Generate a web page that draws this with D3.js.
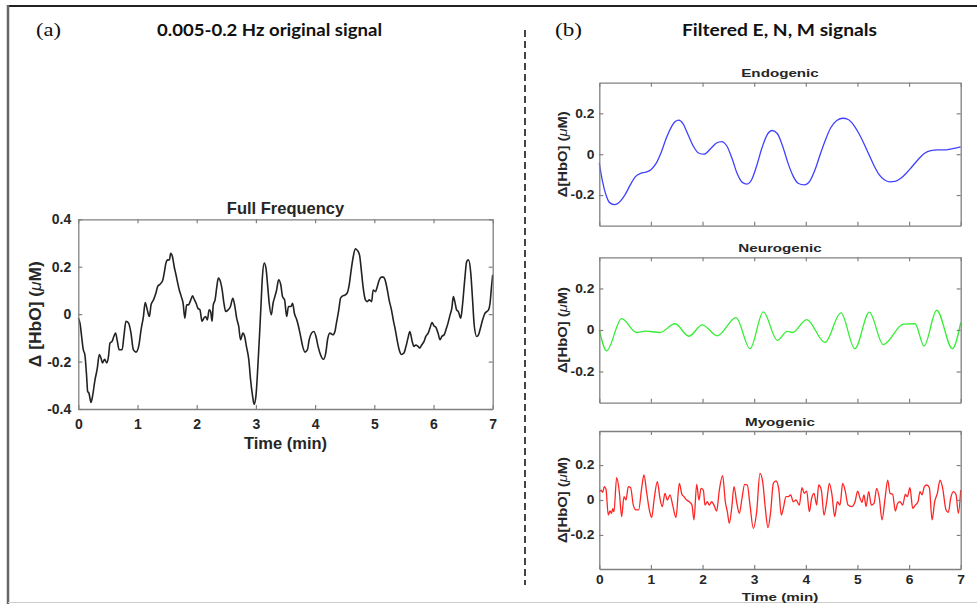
<!DOCTYPE html>
<html><head><meta charset="utf-8">
<script src="https://cdn.jsdelivr.net/npm/d3@7"></script>
<style>html,body{margin:0;padding:0;background:#fff;} svg{display:block;}</style>
</head><body>
<svg id="c" width="977" height="604"></svg>
<script>
// ---------- DATA (time in min, ΔHbO in µM) ----------
const xTicks = [0,1,2,3,4,5,6,7];
const leftYTicks = [-0.4,-0.2,0,0.2,0.4];
const rightYTicks = [-0.2,0,0.2];

const fullFreq = [[0,-0.017],[0.03,-0.04],[0.056,-0.094],[0.084,-0.15],[0.11,-0.17],[0.14,-0.26],[0.158,-0.326],[0.18,-0.333],[0.214,-0.372],[0.24,-0.347],[0.28,-0.28],[0.32,-0.23],[0.355,-0.17],[0.383,-0.185],[0.41,-0.206],[0.445,-0.19],[0.48,-0.206],[0.51,-0.178],[0.535,-0.122],[0.57,-0.115],[0.6,-0.094],[0.63,-0.08],[0.66,-0.115],[0.69,-0.15],[0.74,-0.15],[0.77,-0.094],[0.805,-0.03],[0.85,-0.038],[0.89,-0.08],[0.93,-0.15],[0.974,-0.16],[1.02,-0.136],[1.06,-0.066],[1.1,-0.01],[1.13,0.049],[1.165,0.018],[1.2,-0.01],[1.23,0.04],[1.27,0.06],[1.31,0.088],[1.34,0.116],[1.38,0.126],[1.425,0.142],[1.45,0.172],[1.48,0.215],[1.51,0.229],[1.54,0.229],[1.56,0.257],[1.59,0.243],[1.62,0.2],[1.65,0.166],[1.68,0.13],[1.706,0.102],[1.74,0.074],[1.77,0.046],[1.8,-0.017],[1.83,0.039],[1.86,0.039],[1.9,0.06],[1.93,0.077],[1.95,0.067],[1.99,0.046],[2.02,0.025],[2.055,0.018],[2.09,-0.03],[2.12,-0.017],[2.15,-0.01],[2.18,-0.024],[2.21,0.018],[2.235,0.011],[2.26,-0.03],[2.28,0.039],[2.31,0.06],[2.34,0.116],[2.365,0.152],[2.39,0.145],[2.43,0.102],[2.46,0.046],[2.49,0.011],[2.53,0.018],[2.57,0.032],[2.61,0.067],[2.64,0.039],[2.675,-0.017],[2.71,-0.052],[2.74,-0.108],[2.78,-0.08],[2.81,-0.094],[2.84,-0.136],[2.88,-0.192],[2.91,-0.276],[2.945,-0.347],[2.97,-0.38],[3.0,-0.347],[3.03,-0.234],[3.06,-0.094],[3.085,0.032],[3.11,0.158],[3.14,0.215],[3.17,0.194],[3.2,0.116],[3.225,0.046],[3.26,-0.003],[3.29,0.046],[3.32,0.074],[3.35,0.102],[3.384,0.145],[3.42,0.124],[3.45,0.074],[3.485,0.06],[3.52,-0.01],[3.55,0.032],[3.59,0.032],[3.62,0.046],[3.65,0.004],[3.69,-0.024],[3.72,-0.052],[3.756,-0.094],[3.79,-0.136],[3.83,-0.16],[3.87,-0.15],[3.9,-0.108],[3.94,-0.08],[3.98,-0.073],[4.015,-0.094],[4.05,-0.136],[4.09,-0.17],[4.14,-0.19],[4.18,-0.164],[4.21,-0.108],[4.25,-0.08],[4.3,-0.087],[4.335,-0.073],[4.36,-0.038],[4.4,0.018],[4.43,0.067],[4.465,0.077],[4.5,0.08],[4.54,0.088],[4.58,0.13],[4.61,0.187],[4.645,0.243],[4.68,0.276],[4.71,0.27],[4.75,0.25],[4.78,0.187],[4.81,0.116],[4.85,0.06],[4.88,0.053],[4.915,0.06],[4.955,0.053],[4.98,0.102],[5.02,0.095],[5.05,0.116],[5.085,0.145],[5.12,0.156],[5.15,0.156],[5.19,0.138],[5.22,0.102],[5.25,0.06],[5.29,0.018],[5.32,-0.024],[5.355,-0.066],[5.39,-0.115],[5.42,-0.15],[5.46,-0.17],[5.5,-0.164],[5.535,-0.136],[5.57,-0.1],[5.6,-0.073],[5.64,-0.115],[5.67,-0.136],[5.7,-0.13],[5.74,-0.136],[5.77,-0.143],[5.8,-0.13],[5.84,-0.115],[5.87,-0.094],[5.91,-0.08],[5.94,-0.059],[5.975,-0.035],[6.01,-0.05],[6.04,-0.055],[6.08,-0.083],[6.11,-0.108],[6.14,-0.094],[6.18,-0.087],[6.21,-0.066],[6.245,-0.038],[6.28,-0.003],[6.31,0.025],[6.335,0.074],[6.36,0.053],[6.39,0.018],[6.42,0.011],[6.46,-0.017],[6.49,0.039],[6.53,0.152],[6.56,0.222],[6.59,0.229],[6.63,0.172],[6.66,0.06],[6.69,-0.052],[6.73,-0.094],[6.76,-0.087],[6.8,-0.052],[6.83,-0.024],[6.87,0.004],[6.9,0.011],[6.93,0.018],[6.955,0.046],[6.98,0.116],[7.0,0.166]];

const endogenic = [[0,-0.044],[0.06,-0.13],[0.13,-0.2],[0.2,-0.237],[0.3,-0.247],[0.4,-0.232],[0.5,-0.198],[0.6,-0.15],[0.7,-0.11],[0.8,-0.094],[0.9,-0.088],[1.0,-0.076],[1.1,-0.045],[1.2,0.01],[1.3,0.08],[1.4,0.135],[1.47,0.16],[1.54,0.167],[1.62,0.15],[1.72,0.095],[1.82,0.04],[1.92,0.006],[2.03,0],[2.15,0.025],[2.27,0.055],[2.37,0.062],[2.47,0.04],[2.57,-0.02],[2.67,-0.095],[2.77,-0.138],[2.86,-0.146],[2.95,-0.125],[3.05,-0.055],[3.15,0.03],[3.25,0.095],[3.35,0.116],[3.45,0.1],[3.55,0.04],[3.65,-0.04],[3.75,-0.105],[3.85,-0.142],[3.97,-0.15],[4.08,-0.13],[4.18,-0.075],[4.28,0.0],[4.38,0.07],[4.48,0.128],[4.6,0.165],[4.72,0.176],[4.82,0.17],[4.92,0.145],[5.02,0.105],[5.12,0.055],[5.22,0.0],[5.32,-0.055],[5.42,-0.1],[5.52,-0.125],[5.62,-0.135],[5.73,-0.133],[5.84,-0.118],[5.95,-0.092],[6.06,-0.06],[6.18,-0.025],[6.3,0.005],[6.42,0.018],[6.55,0.021],[6.68,0.021],[6.8,0.025],[6.9,0.03],[7.0,0.036]];

const neurogenic = [[0,0],[0.142,-0.1],[0.433,0.055],[0.723,-0.012],[0.885,-0.005],[1.175,-0.012],[1.466,0.03],[1.737,-0.03],[1.995,0.025],[2.286,-0.028],[2.648,0.06],[2.919,-0.09],[3.177,0.087],[3.448,-0.05],[3.64,-0.007],[3.74,-0.012],[4.017,0.05],[4.37,-0.06],[4.68,0.082],[4.95,-0.09],[5.23,0.086],[5.5,-0.07],[5.89,0.028],[6.115,0.03],[6.29,-0.077],[6.535,0.095],[6.84,-0.09],[7.0,0.035]];

const myogenic = [[0,0.044],[0.032,0.057],[0.065,0.044],[0.097,0.076],[0.129,0.063],[0.174,-0.086],[0.207,-0.063],[0.239,-0.076],[0.258,-0.05],[0.284,-0.067],[0.336,0.128],[0.387,0.048],[0.433,-0.095],[0.478,0.019],[0.517,0],[0.562,0.076],[0.607,0.07],[0.659,-0.029],[0.71,-0.057],[0.762,-0.057],[0.82,0.067],[0.865,0.143],[0.917,0.044],[0.969,-0.057],[1.014,-0.1],[1.065,0.01],[1.124,0.105],[1.175,0.01],[1.22,-0.038],[1.272,0.038],[1.317,0],[1.369,0.029],[1.421,-0.029],[1.485,-0.1],[1.55,0.095],[1.601,0.032],[1.64,0.019],[1.692,0],[1.743,-0.01],[1.795,-0.029],[1.834,-0.114],[1.886,0.09],[1.931,0],[1.97,0.067],[2.015,0.057],[2.047,-0.029],[2.092,-0.01],[2.131,-0.029],[2.176,-0.01],[2.221,-0.029],[2.273,-0.063],[2.325,0.057],[2.389,0.139],[2.441,-0.01],[2.48,-0.067],[2.518,-0.133],[2.564,-0.048],[2.609,0.076],[2.661,-0.013],[2.712,-0.076],[2.764,0.01],[2.815,0.09],[2.867,0.086],[2.919,-0.029],[2.983,-0.162],[3.048,-0.067],[3.112,0.152],[3.164,0.105],[3.216,-0.048],[3.267,-0.158],[3.319,-0.067],[3.371,0.095],[3.422,0.109],[3.474,0.067],[3.526,-0.086],[3.564,-0.048],[3.616,0.019],[3.661,0.019],[3.707,0.029],[3.758,-0.01],[3.81,0],[3.874,-0.029],[3.926,0.07],[3.971,0.038],[4.017,0.051],[4.068,-0.067],[4.113,0.01],[4.159,0.038],[4.21,-0.029],[4.249,0.086],[4.301,0.057],[4.352,-0.086],[4.404,-0.01],[4.456,0.095],[4.507,0.029],[4.559,-0.095],[4.611,-0.01],[4.662,-0.029],[4.714,0.095],[4.766,0.048],[4.817,-0.029],[4.888,-0.038],[4.953,-0.01],[5.004,0.051],[5.05,0.01],[5.088,-0.013],[5.127,0.029],[5.166,-0.038],[5.218,0.048],[5.269,-0.029],[5.321,-0.019],[5.373,0.067],[5.424,0.01],[5.476,-0.114],[5.534,0.006],[5.586,0.114],[5.631,0.038],[5.683,0.032],[5.734,-0.063],[5.779,-0.019],[5.825,-0.01],[5.876,-0.029],[5.928,0.032],[5.967,0.019],[6.018,0.07],[6.07,-0.048],[6.122,-0.029],[6.173,-0.01],[6.212,0.048],[6.251,0.029],[6.296,0.076],[6.341,0.086],[6.393,0.07],[6.445,-0.114],[6.496,-0.01],[6.548,0.038],[6.6,0.114],[6.651,0.067],[6.716,-0.057],[6.761,-0.07],[6.806,0.01],[6.858,0.048],[6.909,0.032],[6.955,-0.076],[7.0,0.057]];

// ---------- DRAWING ----------
const SANS = "'Liberation Sans', Arial, Helvetica, sans-serif";
const SERIF = "'Liberation Serif','Times New Roman',serif";
const TXT = "#262626", AX = "#808080";
const svg = d3.select('#c');

// frame
svg.append('line').attr('x1',8).attr('x2',977).attr('y1',6).attr('y2',6).attr('stroke','#222').attr('stroke-width',2);
svg.append('line').attr('x1',8).attr('x2',8).attr('y1',5).attr('y2',604).attr('stroke','#666').attr('stroke-width',2.5);
svg.append('line').attr('x1',8).attr('x2',977).attr('y1',602.5).attr('y2',602.5).attr('stroke','#ccc').attr('stroke-width',1);
// divider
svg.append('line').attr('x1',525).attr('x2',525).attr('y1',30).attr('y2',585)
  .attr('stroke','#444').attr('stroke-width',2).attr('stroke-dasharray','7,4');

// headers
svg.append('text').attr('x',36).attr('y',36).attr('textLength',25).attr('lengthAdjust','spacingAndGlyphs')
  .attr('font-family',SERIF).attr('font-size',18).attr('fill','#111').text('(a)');
svg.append('text').attr('x',555).attr('y',36).attr('textLength',27).attr('lengthAdjust','spacingAndGlyphs')
  .attr('font-family',SERIF).attr('font-size',18).attr('fill','#111').text('(b)');
svg.append('text').attr('x',157).attr('y',36).attr('textLength',225).attr('lengthAdjust','spacingAndGlyphs')
  .attr('font-family',"Lato, 'Open Sans', sans-serif").attr('font-weight','bold').attr('font-size',17).attr('fill','#111')
  .text('0.005-0.2 Hz original signal');
svg.append('text').attr('x',682).attr('y',36).attr('textLength',195).attr('lengthAdjust','spacingAndGlyphs')
  .attr('font-family',"Lato, 'Open Sans', sans-serif").attr('font-weight','bold').attr('font-size',17).attr('fill','#111')
  .text('Filtered E, N, M signals');

const fmtY = d => d === 0 ? '0' : String(d);

function panel(c) {
  const x = d3.scaleLinear().domain([0,7]).range([c.x0, c.x1]);
  const y = d3.scaleLinear().domain(c.yDomain).range([c.y1, c.y0]);
  const g = svg.append('g');
  const sx = c.sx, tsx = c.tsx;

  function styleAxis(a) {
    a.select('.domain').attr('stroke', AX).attr('stroke-width', 1.3);
    a.selectAll('.tick line').attr('stroke', AX).attr('stroke-width', 1.2);
    a.selectAll('.tick text').attr('fill', TXT).attr('font-family', SANS)
      .attr('font-weight','bold').attr('font-size', c.fs);
  }
  // data line
  g.append('path').datum(c.data)
    .attr('d', d3.line().x(d => x(d[0])).y(d => y(d[1])).curve(d3.curveMonotoneX))
    .attr('fill','none').attr('stroke', c.color).attr('stroke-width', c.lw)
    .attr('stroke-linejoin','round');

  const ab = g.append('g').attr('transform',`translate(0,${c.y1})`)
    .call(d3.axisBottom(x).tickValues(xTicks).tickSizeInner(-4).tickSizeOuter(0)
      .tickPadding(c.padX).tickFormat(c.showX ? d3.format('d') : () => ''));
  styleAxis(ab);
  ab.selectAll('.tick text').attr('transform', `scale(${tsx},1)`);
  const at = g.append('g').attr('transform',`translate(0,${c.y0})`)
    .call(d3.axisTop(x).tickValues(xTicks).tickSizeInner(-4).tickSizeOuter(0).tickFormat(() => ''));
  styleAxis(at);
  const al = g.append('g').attr('transform',`translate(${c.x0},0)`)
    .call(d3.axisLeft(y).tickValues(c.yTicks).tickSizeInner(-4).tickSizeOuter(0)
      .tickPadding(c.padY).tickFormat(fmtY));
  styleAxis(al);
  al.selectAll('.tick text').attr('x', -c.padY / tsx).attr('transform', `scale(${tsx},1)`);
  const ar = g.append('g').attr('transform',`translate(${c.x1},0)`)
    .call(d3.axisRight(y).tickValues(c.yTicks).tickSizeInner(-4).tickSizeOuter(0).tickFormat(() => ''));
  styleAxis(ar);

  // title
  g.append('text').attr('transform', `translate(${(c.x0 + c.x1) / 2},${c.titleY}) scale(${sx},1)`)
    .attr('text-anchor','middle').attr('font-family', SANS).attr('font-weight','bold')
    .attr('font-size', c.tfs).attr('fill', TXT).text(c.title);
  // x label
  if (c.xlabelY) {
    g.append('text').attr('transform', `translate(${(c.x0 + c.x1) / 2},${c.xlabelY}) scale(${sx},1)`)
      .attr('text-anchor','middle').attr('font-family', SANS).attr('font-weight','bold')
      .attr('font-size', c.tfs).attr('fill', TXT).text('Time (min)');
  }
  // y label (rotated)
  const yc = (c.y0 + c.y1) / 2;
  const yl = g.append('text')
    .attr('transform', `translate(${c.ylabelX},${yc}) rotate(-90)`)
    .attr('x', -c.ylabelLen / 2).attr('dy','0.35em')
    .attr('textLength', c.ylabelLen).attr('lengthAdjust','spacingAndGlyphs')
    .attr('font-family', SANS).attr('font-weight','bold')
    .attr('font-size', c.lfs).attr('fill', TXT);
  yl.append('tspan').text(c.leftLabelSpace ? 'Δ [HbO] (' : 'Δ[HbO] (');
  yl.append('tspan').attr('font-style','italic').attr('font-weight','normal').text('μ');
  yl.append('tspan').text('M)');
}

panel({x0:78.3, x1:492.7, y0:219.3, y1:409, yDomain:[-0.4,0.4], yTicks:leftYTicks, data:fullFreq,
  color:'#222', lw:1.6, sx:1, tsx:1, fs:14, tfs:16.5, lfs:16, padX:10, padY:7, showX:true,
  title:'Full Frequency', titleY:213.5, xlabelY:449, ylabelX:35.5, ylabelLen:106, leftLabelSpace:true});

const R = {x0:599.3, x1:960.7, yTicks:rightYTicks, sx:1.32, tsx:1.15, fs:12, tfs:11.5, lfs:13, padX:6, padY:5, lw:1.3,
  ylabelX:562, ylabelLen:86};
panel(Object.assign({}, R, {y0:82.7, y1:225.7, yDomain:[-0.35,0.35], data:endogenic, color:'#4040ff',
  title:'Endogenic', titleY:76.8, showX:false}));
panel(Object.assign({}, R, {y0:257.3, y1:402.7, yDomain:[-0.35,0.35], data:neurogenic, color:'#33ee33',
  title:'Neurogenic', titleY:252, showX:false}));
panel(Object.assign({}, R, {y0:431, y1:569, yDomain:[-0.395,0.395], data:myogenic, color:'#ff2424',
  title:'Myogenic', titleY:425.8, showX:true, xlabelY:600.5}));
</script>
</body></html>
